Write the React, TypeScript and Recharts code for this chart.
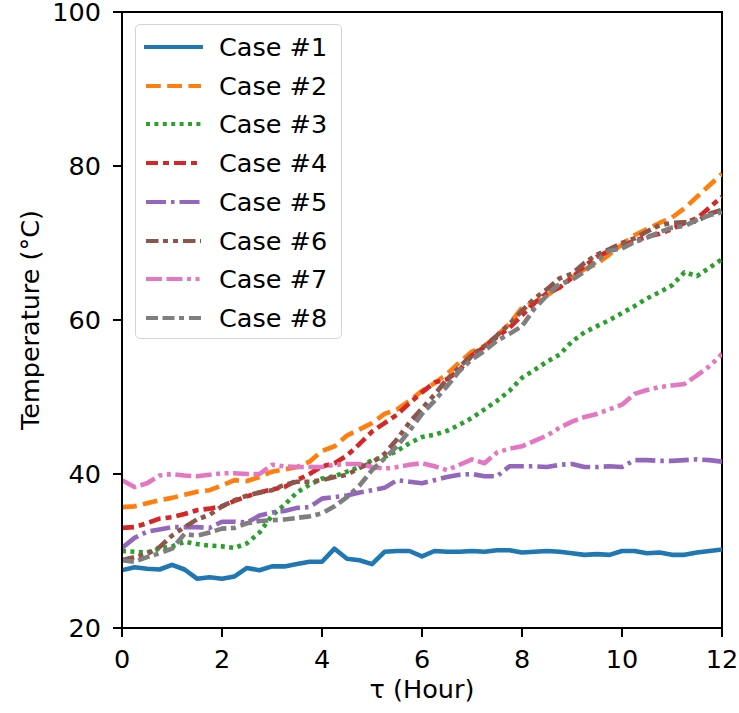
import React from 'react';
import { LineChart, Line, XAxis, YAxis, ReferenceArea, Legend } from 'recharts';

const hours = [0, 0.25, 0.5, 0.75, 1, 1.25, 1.5, 1.75, 2, 2.25, 2.5, 2.75, 3, 3.25, 3.5, 3.75, 4, 4.25, 4.5, 4.75, 5, 5.25, 5.5, 5.75, 6, 6.25, 6.5, 6.75, 7, 7.25, 7.5, 7.75, 8, 8.25, 8.5, 8.75, 9, 9.25, 9.5, 9.75, 10, 10.25, 10.5, 10.75, 11, 11.25, 11.5, 11.75, 12];

const case1 = [27.5, 27.9, 27.7, 27.6, 28.2, 27.6, 26.4, 26.6, 26.4, 26.7, 27.8, 27.5, 28.0, 28.0, 28.3, 28.6, 28.6, 30.3, 29.0, 28.8, 28.3, 29.9, 30.0, 30.0, 29.3, 30.0, 29.9, 29.9, 30.0, 29.9, 30.1, 30.1, 29.8, 29.9, 30.0, 29.9, 29.7, 29.5, 29.6, 29.5, 30.0, 30.0, 29.7, 29.8, 29.5, 29.5, 29.8, 30.0, 30.2];
const case2 = [35.7, 35.8, 36.2, 36.6, 36.9, 37.3, 37.7, 37.9, 38.5, 39.2, 39.1, 39.6, 40.3, 40.6, 40.9, 41.6, 43.0, 43.6, 45.0, 45.8, 46.6, 47.8, 48.4, 49.5, 50.8, 51.8, 53.0, 54.5, 55.9, 56.6, 58.0, 59.5, 61.6, 62.3, 63.2, 64.3, 65.5, 66.6, 67.3, 68.5, 69.8, 71.0, 71.8, 72.6, 73.3, 74.5, 76.0, 77.5, 79.0];
const case3 = [30.0, 29.9, 29.8, 30.3, 30.6, 31.2, 30.9, 30.7, 30.6, 30.4, 31.0, 32.4, 34.6, 36.0, 37.6, 38.6, 39.4, 39.7, 40.3, 40.9, 41.8, 42.2, 43.0, 44.0, 44.8, 45.1, 45.6, 46.4, 47.3, 48.4, 49.5, 50.8, 52.5, 53.5, 54.6, 55.5, 57.2, 58.4, 59.2, 60.0, 60.9, 61.8, 62.8, 63.6, 64.5, 66.2, 65.7, 66.8, 67.9];
const case4 = [33.0, 33.1, 33.6, 34.2, 34.4, 34.8, 35.3, 35.5, 35.8, 36.5, 37.1, 37.6, 38.0, 38.3, 39.2, 40.0, 41.0, 41.4, 42.4, 43.9, 45.5, 46.6, 47.7, 49.2, 50.6, 51.9, 52.3, 53.5, 55.4, 56.5, 57.8, 59.0, 60.6, 62.2, 63.5, 64.2, 65.5, 67.0, 68.2, 69.0, 69.6, 70.3, 70.8, 71.2, 71.8, 72.6, 73.2, 74.6, 76.0];
const case5 = [30.4, 31.7, 32.5, 32.8, 33.1, 33.1, 33.1, 33.0, 33.8, 33.8, 33.7, 34.6, 35.0, 35.2, 35.6, 35.7, 36.8, 37.0, 37.2, 37.6, 37.9, 38.2, 39.2, 39.0, 38.8, 39.2, 39.6, 39.9, 40.0, 39.7, 39.7, 41.0, 41.0, 41.0, 40.9, 41.2, 41.3, 40.9, 40.9, 41.0, 40.9, 41.8, 41.8, 41.7, 41.7, 41.8, 41.9, 41.8, 41.6];
const case6 = [28.8, 29.2, 29.6, 30.5, 32.0, 33.1, 34.1, 34.7, 35.8, 36.6, 37.2, 37.6, 37.9, 38.6, 39.0, 39.0, 39.2, 39.6, 39.9, 40.8, 41.5, 42.6, 44.5, 46.7, 48.5, 50.3, 52.3, 53.9, 55.5, 56.6, 58.0, 59.5, 61.2, 62.8, 64.0, 65.4, 66.0, 67.4, 68.5, 69.2, 70.0, 70.6, 71.5, 72.3, 72.6, 72.7, 72.8, 73.8, 74.3];
const case7 = [39.2, 38.3, 38.8, 39.8, 40.0, 39.8, 39.7, 39.9, 40.1, 40.1, 40.0, 40.0, 41.2, 41.0, 40.9, 40.9, 40.9, 41.2, 41.3, 41.3, 40.9, 40.7, 40.9, 41.2, 41.4, 41.0, 40.5, 41.2, 41.9, 41.4, 42.8, 43.3, 43.6, 44.3, 45.0, 46.0, 46.8, 47.4, 47.8, 48.4, 49.0, 50.4, 50.9, 51.3, 51.5, 51.7, 52.8, 54.0, 55.6];
const case8 = [28.8, 28.6, 29.2, 29.7, 30.3, 32.2, 32.0, 32.4, 32.9, 33.0, 33.6, 33.9, 34.0, 34.1, 34.3, 34.5, 34.9, 35.8, 37.0, 38.5, 40.5, 42.0, 43.6, 45.6, 47.8, 49.5, 51.4, 53.4, 54.9, 56.0, 57.3, 58.2, 59.2, 61.5, 63.2, 64.7, 65.2, 66.3, 67.7, 69.0, 69.3, 70.1, 70.7, 71.4, 72.0, 72.2, 73.0, 73.6, 74.0];

const seriesNames = ['Case #1', 'Case #2', 'Case #3', 'Case #4', 'Case #5', 'Case #6', 'Case #7', 'Case #8'];
const seriesValues = [case1, case2, case3, case4, case5, case6, case7, case8];
const xTicks = [0, 2, 4, 6, 8, 10, 12];
const yTicks = [20, 40, 60, 80, 100];

const colors = ['#1f77b4', '#ff7f0e', '#2ca02c', '#d62728', '#9467bd', '#8c564b', '#e377c2', '#7f7f7f'];
const dashes = [
  undefined,
  '14.8 6.4',
  '4 4.4',
  '12 5 6 5',
  '20 5 3.5 5',
  '12.5 4.5 5 5 5 5',
  '16 4.5 16 4.5 4 4.5 4 4.5',
  '12 4.5 12 4.5 5 5',
];

const data = hours.map((h, i) => {
  const row: Record<string, number> = { h };
  seriesValues.forEach((arr, k) => {
    row['c' + (k + 1)] = arr[i];
  });
  return row;
});

const FONT = '"DejaVu Sans", sans-serif';
const FS = 25.5;

const LegendBox = () => (
  <div
    style={{
      width: 207,
      height: 315,
      boxSizing: 'border-box',
      border: '1.5px solid #d4d4d4',
      borderRadius: 5,
      background: 'rgba(255,255,255,0.8)',
      position: 'relative',
      fontFamily: FONT,
      fontSize: FS,
      color: '#000',
    }}
  >
    {seriesNames.map((name, k) => {
      const cy = 22 + k * 38.7;
      return (
        <div key={name} style={{ position: 'absolute', left: 0, top: cy - 19, height: 38, width: 205 }}>
          <svg width={70} height={38} style={{ position: 'absolute', left: 0, top: 0 }}>
            <line
              x1={10}
              x2={65}
              y1={19}
              y2={19}
              stroke={colors[k]}
              strokeWidth={4}
              strokeDasharray={dashes[k]}
              strokeLinecap={k === 0 ? 'square' : 'butt'}
            />
          </svg>
          <span style={{ position: 'absolute', left: 83, top: 0, lineHeight: '38px', whiteSpace: 'nowrap' }}>{name}</span>
        </div>
      );
    })}
  </div>
);

export default function App() {
  return (
    <div style={{ position: 'absolute', left: 0, top: 0, width: 739, height: 713, background: '#fff' }}>
      <LineChart width={739} height={713} data={data} margin={{ top: 12, right: 17, bottom: 0, left: 0 }}>
        <ReferenceArea x1={0} x2={12} y1={20} y2={100} fill="none" stroke="#000" strokeWidth={2} ifOverflow="visible" />
        <XAxis
          dataKey="h"
          type="number"
          domain={[0, 12]}
          ticks={xTicks}
          height={85}
          tickSize={9}
          tickMargin={13}
          axisLine={{ stroke: '#000', strokeWidth: 2 }}
          tickLine={{ stroke: '#000', strokeWidth: 2 }}
          tick={{ fill: '#000', fontSize: FS, fontFamily: FONT }}
          interval={0}
          allowDataOverflow
          label={{ value: 'τ (Hour)', position: 'insideBottom', offset: 15, fill: '#000', fontSize: FS, fontFamily: FONT }}
        />
        <YAxis
          type="number"
          domain={[20, 100]}
          ticks={yTicks}
          width={122}
          tickSize={9}
          tickMargin={12}
          axisLine={{ stroke: '#000', strokeWidth: 2 }}
          tickLine={{ stroke: '#000', strokeWidth: 2 }}
          tick={{ fill: '#000', fontSize: FS, fontFamily: FONT }}
          interval={0}
          allowDataOverflow
          label={{
            value: 'Temperature (°C)',
            angle: -90,
            position: 'insideLeft',
            offset: 30,
            fill: '#000',
            fontSize: FS,
            fontFamily: FONT,
            style: { textAnchor: 'middle' },
          }}
        />
        {seriesNames.map((name, k) => (
          <Line
            key={name}
            name={name}
            dataKey={'c' + (k + 1)}
            type="linear"
            stroke={colors[k]}
            strokeWidth={4.6}
            strokeDasharray={dashes[k]}
            strokeLinejoin="round"
            strokeLinecap={k === 0 ? 'square' : 'butt'}
            dot={false}
            activeDot={false}
            isAnimationActive={false}
          />
        ))}
        <Legend
          layout="vertical"
          align="center"
          verticalAlign="middle"
          content={() => <LegendBox />}
          wrapperStyle={{ left: 135, top: 24, width: 207, height: 315 }}
        />
      </LineChart>
    </div>
  );
}
